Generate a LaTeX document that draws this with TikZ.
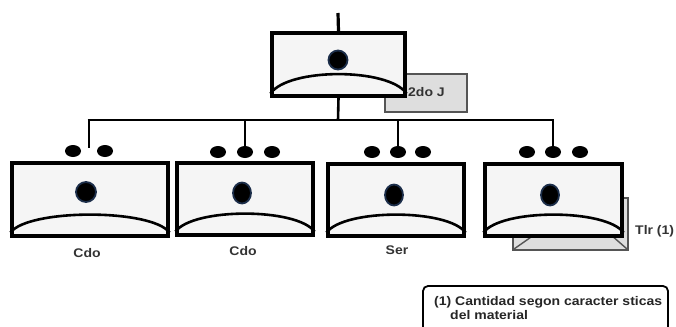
\documentclass[tikz,border=0pt]{standalone}
\usepackage{fontspec}
\setmainfont{Liberation Sans}
\usetikzlibrary{calc,shapes.geometric}
\definecolor{boxfill}{HTML}{F5F5F5}
\definecolor{shadefill}{HTML}{DEDEDE}
\definecolor{shadeline}{HTML}{555555}
\definecolor{dotrim}{HTML}{1C2E4A}
\tikzset{
  unitbox/.style={draw=black, line width=3.2pt, fill=boxfill, rectangle, inner sep=0pt},
  arcline/.style={line width=2.6pt, black},
  wire/.style={line width=2.6pt, black},
  bdot/.style={ellipse, fill=black, minimum width=16pt, minimum height=12pt, inner sep=0pt},
  cdot/.style={ellipse, fill=black, draw=dotrim, line width=1.8pt, minimum width=20pt, minimum height=20pt, inner sep=0pt},
  shade/.style={fill=shadefill, draw=shadeline, line width=1.4pt},
  lbl/.style={font=\bfseries\addfontfeature{FakeStretch=1.12}\fontsize{12.5}{13}\selectfont, text=black!80, inner sep=0pt},
  note/.style={font=\bfseries\addfontfeature{FakeStretch=1.12}\fontsize{12.5}{13}\selectfont, text=black!85, inner sep=0pt, anchor=west}
}
\begin{document}
\begin{tikzpicture}[x=1pt,y=-1pt]
\useasboundingbox (0,0) rectangle (676,326);
% shadow behind top box
\draw[shade] (385,74) rectangle (467,112);
\node[lbl, anchor=west] (lj) at (408,92) {2do J};
% top box
\node[unitbox, minimum width=133pt, minimum height=63pt] (tb) at (338.5,64.5) {};
\draw[arcline] ([yshift=4pt]tb.south west) .. controls ([xshift=18pt,yshift=30pt]tb.south west) and ([xshift=-18pt,yshift=30pt]tb.south east) .. ([yshift=4pt]tb.south east);
\node[cdot, minimum width=19pt, minimum height=19pt] (tc) at (338,60) {};
\coordinate (tin) at (338,13);
\draw[line width=3.2pt] (tin) -- (tb.north);
% bus
\coordinate (j1) at (89,120);
\coordinate (j2) at (245,120);
\coordinate (j3) at (398,120);
\coordinate (j4) at (553,120);
\coordinate (jt) at (338,120);
\draw[wire] (tb.south) -- (jt);
\draw[wire] ([xshift=-1.3pt]j1) -- ([xshift=1.3pt]j4);
% dots child 1
\node[bdot] (d1a) at (73,151) {};
\node[bdot] (d1b) at (105,151) {};
\coordinate (e1) at (89,148);
\draw[wire] (j1) -- (e1);
% dots child 2
\node[bdot] (d2a) at (218,152) {};
\node[bdot] (d2b) at (245,152) {};
\node[bdot] (d2c) at (272,152) {};
\draw[wire] (j2) -- (d2b.center);
% dots child 3
\node[bdot] (d3a) at (372,152) {};
\node[bdot] (d3b) at (398,152) {};
\node[bdot] (d3c) at (423,152) {};
\draw[wire] (j3) -- (d3b.center);
% dots child 4
\node[bdot] (d4a) at (527,152) {};
\node[bdot] (d4b) at (553,152) {};
\node[bdot] (d4c) at (580,152) {};
\draw[wire] (j4) -- (d4b.center);
% shadow behind box 4
\draw[shade] (513,198) rectangle (628,250);
\draw[shadeline, line width=1.4pt] (514,249) -- (534,235);
\draw[shadeline, line width=1.4pt] (627,249) -- (611,235);
% child boxes
\node[unitbox, minimum width=156pt, minimum height=73pt] (b1) at (90,199.5) {};
\node[unitbox, minimum width=136pt, minimum height=72pt] (b2) at (245,199) {};
\node[unitbox, minimum width=136pt, minimum height=72pt] (b3) at (396,200) {};
\node[unitbox, minimum width=137pt, minimum height=72pt] (b4) at (553.5,200) {};
\foreach \b in {b1,b2,b3,b4}{
  \draw[arcline] ([yshift=5pt]\b.south west) .. controls ([xshift=18pt,yshift=29pt]\b.south west) and ([xshift=-18pt,yshift=29pt]\b.south east) .. ([yshift=5pt]\b.south east);
}
\node[cdot] (c1) at (86,192) {};
\node[cdot, minimum width=18pt, minimum height=21pt] (c2) at (242,193) {};
\node[cdot, minimum width=18pt, minimum height=21pt] (c3) at (394,195) {};
\node[cdot, minimum width=18pt, minimum height=21pt] (c4) at (550,195) {};
% labels
\node[lbl] (l1) at (87,253) {Cdo};
\node[lbl] (l2) at (243,251) {Cdo};
\node[lbl] (l3) at (397,250) {Ser};
\node[lbl, anchor=west] (l4) at (635,231) {Tlr (1)};
% note
\draw[line width=1.8pt, rounded corners=5pt] (423,335) -- (423,286) -- (668,286) -- (668,335);
\node[note] (n1) at (434,302) {(1) Cantidad segon caracter sticas};
\node[note] (n2) at (450,315) {del material};
\end{tikzpicture}
\end{document}
